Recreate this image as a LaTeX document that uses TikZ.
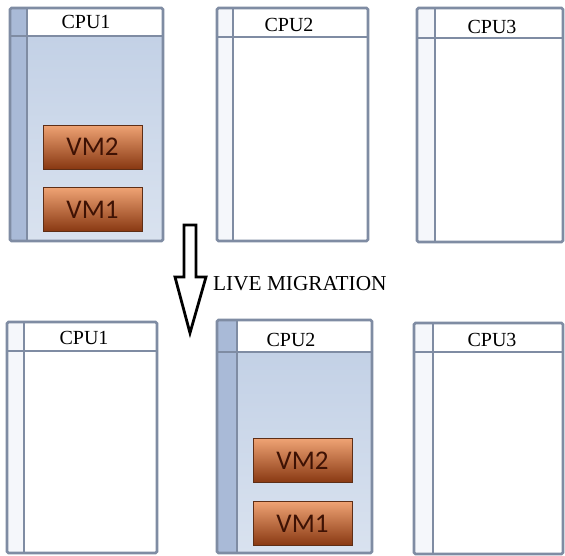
\documentclass[tikz,border=0pt]{standalone}
\usepackage{fontspec}
\setmainfont{Liberation Serif}
\newfontfamily\vmfont{Carlito}
\usetikzlibrary{calc}
\definecolor{frame}{HTML}{7F8CA3}
\definecolor{strip}{HTML}{A9BAD7}
\definecolor{bodytop}{HTML}{C3D1E6}
\definecolor{bodybot}{HTML}{D9E2EF}
\definecolor{vmtop}{HTML}{EFA374}
\definecolor{vmbot}{HTML}{883812}
\definecolor{vmedge}{HTML}{5E2E16}
\definecolor{vmtext}{HTML}{3E1204}
\definecolor{lightstrip}{HTML}{F5F7FB}
\tikzset{
  cpuframe/.style={draw=frame, line width=2.6pt, rounded corners=1.5pt},
  cpuline/.style={draw=frame, line width=1.8pt},
  cpulabel/.style={font=\fontsize{20}{20}\selectfont, inner sep=0pt},
  vmbox/.style={draw=vmedge, line width=1pt, top color=vmtop, bottom color=vmbot,
    minimum width=99pt, minimum height=44pt, inner sep=0pt,
    font=\vmfont\fontsize{27}{27}\selectfont, text=vmtext},
  bigarrow/.style={draw=black, line width=2.8pt, fill=white, line join=miter},
  migtext/.style={font=\fontsize{21.3}{21.3}\selectfont, inner sep=0pt, anchor=west},
}
% #1 x1, #2 y1, #3 x2, #4 y2, #5 inner x, #6 header y, #7 active
\newcommand\cpubox[7]{%
  \ifnum#7=1
    \shade[top color=bodytop, bottom color=bodybot] (#5,#6) rectangle (#3,#4);
    \fill[strip] (#1,#2) rectangle (#5,#4);
    \fill[white] (#5,#2) rectangle (#3,#6);
  \else
    \fill[lightstrip] (#1,#2) rectangle (#5,#4);
  \fi
  \draw[cpuline] (#5,#2) -- (#5,#4);
  \draw[cpuline] (#1,#6) -- (#3,#6);
  \draw[cpuframe] (#1,#2) rectangle (#3,#4);
}
\begin{document}
\begin{tikzpicture}[x=1pt, y=-1pt]
\useasboundingbox (0,0) rectangle (565,555);
\fill[white] (0,0) rectangle (565,555);
% top row
\cpubox{10}{8}{163}{241}{27}{36}{1}
\cpubox{217}{8}{368}{241}{233}{37}{0}
\cpubox{417}{8}{563}{242}{435}{38}{0}
\node[cpulabel] (t1) at (86,22) {CPU1};
\node[cpulabel] (t2) at (289,25) {CPU2};
\node[cpulabel] (t3) at (492,27) {CPU3};
\node[vmbox] (tvm2) at (92.5,147) {VM2};
\node[vmbox] (tvm1) at (92.5,209.5) {VM1};
% bottom row
\cpubox{7}{322}{157}{553}{24}{351}{0}
\cpubox{217}{320}{372}{553}{237}{352}{1}
\cpubox{414}{323}{563}{554}{433}{352}{0}
\node[cpulabel] (b1) at (84,338) {CPU1};
\node[cpulabel] (b2) at (291,340) {CPU2};
\node[cpulabel] (b3) at (492,340) {CPU3};
\node[vmbox] (bvm2) at (302.5,460.5) {VM2};
\node[vmbox] (bvm1) at (302.5,523.5) {VM1};
% migration arrow
\coordinate (atop) at (190,225);
\coordinate (atip) at (190,333);
\draw[bigarrow] (184,225) -- (196,225) -- (196,277) -- (206,277) -- (atip)
  -- (175,277) -- (184,277) -- cycle;
\node[migtext] (mig) at (213,284) {LIVE MIGRATION};
\end{tikzpicture}
\end{document}
